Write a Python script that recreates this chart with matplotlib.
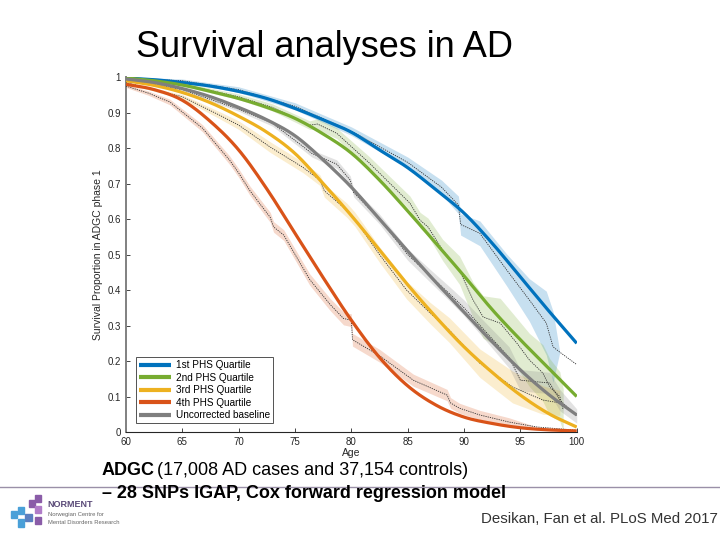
"""
Survival analyses in AD - courbes de survie par quartile de PHS (ADGC)
"""

import numpy as np
import matplotlib.pyplot as plt
from matplotlib.patches import Rectangle

plt.rcParams['font.family'] = ['Liberation Sans', 'DejaVu Sans']

# ---- Données ----
ages_modele = [60, 62.5, 65, 67.5, 70, 72.5, 75, 77.5, 80, 82.5, 85,
               87.5, 90, 92.5, 95, 97.5, 100]

q1_modele = [0.998, 0.993, 0.985, 0.975, 0.96, 0.94, 0.912, 0.88, 0.845,
             0.795, 0.745, 0.683, 0.617, 0.532, 0.437, 0.342, 0.25]
q2_modele = [0.998, 0.99, 0.978, 0.96, 0.94, 0.915, 0.884, 0.84, 0.786,
             0.71, 0.623, 0.532, 0.44, 0.345, 0.26, 0.18, 0.10]
q3_modele = [0.99, 0.977, 0.957, 0.928, 0.89, 0.845, 0.785, 0.70, 0.61,
             0.513, 0.415, 0.324, 0.24, 0.168, 0.104, 0.052, 0.014]
q4_modele = [0.98, 0.965, 0.935, 0.875, 0.795, 0.685, 0.56, 0.435, 0.315,
             0.21, 0.13, 0.076, 0.042, 0.024, 0.012, 0.006, 0.003]
base_modele = [0.995, 0.985, 0.968, 0.945, 0.915, 0.88, 0.835, 0.767, 0.69,
               0.60, 0.51, 0.422, 0.338, 0.254, 0.175, 0.106, 0.048]

# Kaplan-Meier (pointillés) + demi-largeur de l'intervalle
q1_km_ages = [60, 65, 70, 75, 80, 85, 88, 89.5, 89.7, 91.4, 93.8, 95.8, 97.3, 97.9, 98.5, 100]
q1_km = [0.998, 0.99, 0.965, 0.918, 0.848, 0.76, 0.69, 0.64, 0.585, 0.56, 0.456, 0.372, 0.307, 0.24, 0.225, 0.19]
q1_ic = [0.003, 0.005, 0.008, 0.01, 0.012, 0.015, 0.02, 0.025, 0.03, 0.035, 0.045, 0.06, 0.09, 0.1, 0.0, 0.0]

q2_km_ages = [60, 65, 70, 73, 76.3, 77, 78.7, 81.6, 85.2, 86.1, 86.8, 88.1, 89.6, 90.8, 91.7,
              93.2, 94.7, 95.8, 97, 97.6, 98.5, 98.8]
q2_km = [0.998, 0.98, 0.945, 0.915, 0.865, 0.868, 0.842, 0.758, 0.645, 0.597, 0.578, 0.513,
         0.456, 0.372, 0.324, 0.307, 0.25, 0.203, 0.166, 0.127, 0.10, 0.062]
q2_ic = [0.003, 0.005, 0.008, 0.01, 0.012, 0.015, 0.015, 0.018, 0.02, 0.022, 0.025, 0.03,
         0.04, 0.05, 0.06, 0.07, 0.07, 0.075, 0.08, 0.08, 0.07, 0.06]

q3_km_ages = [60, 65, 68.3, 70, 72.8, 75.7, 77.2, 77.6, 79.6, 80.3, 82.5, 84.9, 87, 88.7,
              91.4, 94.3, 97, 98.5]
q3_km = [0.985, 0.945, 0.893, 0.865, 0.803, 0.746, 0.71, 0.68, 0.625, 0.60, 0.50, 0.40,
         0.335, 0.287, 0.194, 0.127, 0.09, 0.082]
q3_ic = [0.003, 0.006, 0.01, 0.012, 0.015, 0.015, 0.015, 0.018, 0.02, 0.02, 0.022, 0.025,
         0.03, 0.035, 0.04, 0.045, 0.04, 0.035]

q4_km_ages = [60, 62, 63.9, 66.8, 69.2, 70, 71, 72.8, 73.1, 74, 76.3, 78.1, 79.3, 80, 80.1,
              82.5, 85.5, 88.5, 88.8, 89.6, 91.4, 94, 96.5, 100]
q4_km = [0.975, 0.955, 0.93, 0.856, 0.766, 0.73, 0.68, 0.605, 0.578, 0.555, 0.43, 0.36,
         0.32, 0.315, 0.26, 0.215, 0.146, 0.104, 0.082, 0.067, 0.048, 0.028, 0.014, 0.005]
q4_ic = [0.004, 0.006, 0.008, 0.01, 0.012, 0.012, 0.013, 0.014, 0.015, 0.015, 0.016, 0.017,
         0.018, 0.018, 0.018, 0.018, 0.017, 0.016, 0.015, 0.014, 0.013, 0.012, 0.0, 0.0]

base_km_ages = [60, 65, 70, 73, 75.7, 76.5, 78.7, 79.9, 80.2, 82.5, 85, 87, 88.7, 90, 92,
                94, 95, 97.6, 98.5, 100]
base_km = [0.995, 0.965, 0.91, 0.87, 0.805, 0.785, 0.755, 0.71, 0.675, 0.60, 0.50, 0.44,
           0.39, 0.35, 0.28, 0.21, 0.146, 0.138, 0.09, 0.045]
base_ic = [0.002, 0.004, 0.006, 0.008, 0.01, 0.01, 0.012, 0.012, 0.012, 0.014, 0.016, 0.018,
           0.02, 0.022, 0.025, 0.03, 0.03, 0.03, 0.03, 0.02]

legende = ['1st PHS Quartile', '2nd PHS Quartile', '3rd PHS Quartile',
           '4th PHS Quartile', 'Uncorrected baseline']
couleurs = ['#0072BD', '#77AC30', '#EDB120', '#D95319', '#7F7F7F']

y_ticks = [0, 0.1, 0.2, 0.3, 0.4, 0.5, 0.6, 0.7, 0.8, 0.9, 1]
y_labels = ['0', '0.1', '0.2', '0.3', '0.4', '0.5', '0.6', '0.7', '0.8', '0.9', '1']
x_ticks = [60, 65, 70, 75, 80, 85, 90, 95, 100]

modeles = [q1_modele, q2_modele, q3_modele, q4_modele, base_modele]
km_series = [(q1_km_ages, q1_km, q1_ic), (q2_km_ages, q2_km, q2_ic),
             (q3_km_ages, q3_km, q3_ic), (q4_km_ages, q4_km, q4_ic),
             (base_km_ages, base_km, base_ic)]


def trace_lisse(x, y, n=12):
    """Catmull-Rom pour dessiner une courbe lisse passant par les points lus"""
    x = np.asarray(x, float)
    y = np.asarray(y, float)
    px = np.concatenate([[2 * x[0] - x[1]], x, [2 * x[-1] - x[-2]]])
    py = np.concatenate([[2 * y[0] - y[1]], y, [2 * y[-1] - y[-2]]])
    t = np.linspace(0, 1, n, endpoint=False)
    xs, ys = [], []
    for i in range(1, len(px) - 2):
        for p, out in ((px, xs), (py, ys)):
            p0, p1, p2, p3 = p[i - 1], p[i], p[i + 1], p[i + 2]
            out.extend(0.5 * (2 * p1 + (-p0 + p2) * t + (2 * p0 - 5 * p1 + 4 * p2 - p3) * t ** 2
                              + (-p0 + 3 * p1 - 3 * p2 + p3) * t ** 3))
    xs.append(x[-1])
    ys.append(y[-1])
    return np.array(xs), np.array(ys)


fig = plt.figure(figsize=(7.2, 5.4), dpi=100)
ax = fig.add_axes([0.175, 0.2, 0.626, 0.657])

# 1. bandes + KM
for (a, s, ic), c in zip(km_series, couleurs):
    a = np.array(a)
    s = np.array(s)
    ic = np.array(ic)
    ax.fill_between(a, s - ic, s + ic, color=c, alpha=0.22, lw=0)
for (a, s, ic) in km_series:
    ax.plot(a, s, color='#333333', lw=0.6, ls=(0, (1.5, 1.2)), zorder=3)

# 2. courbes du modèle
for m, c, lab in zip(modeles, couleurs, legende):
    xs, ys = trace_lisse(ages_modele, m)
    ax.plot(xs, ys, color=c, lw=2.3, label=lab, zorder=4, solid_capstyle='butt')

ax.set_xlim(60, 100)
ax.set_ylim(0, 1)
ax.set_xticks(x_ticks)
ax.set_yticks(y_ticks)
ax.set_yticklabels(y_labels)
ax.tick_params(direction='in', length=3, labelsize=7, colors='#262626', width=0.6)
for side in ['top', 'right']:
    ax.spines[side].set_visible(False)
ax.spines['left'].set_color('#808080')
ax.spines['left'].set_linewidth(1.4)
ax.spines['bottom'].set_color('#262626')
ax.spines['bottom'].set_linewidth(0.8)
ax.set_xlabel('Age', fontsize=7.5, labelpad=1, color='#262626')
ax.set_ylabel('Survival Proportion in ADGC phase 1', fontsize=7.5, labelpad=3, color='#262626')

leg = ax.legend(loc='lower left', bbox_to_anchor=(0.022, 0.025), fontsize=7.2,
                frameon=True, fancybox=False, edgecolor='#262626', borderpad=0.3,
                handlelength=3.2, labelspacing=0.25, handletextpad=0.5, borderaxespad=0)
leg.get_frame().set_linewidth(0.7)
for ligne in leg.get_lines():
    ligne.set_linewidth(3)

# 3. textes de la diapo
fig.text(0.189, 0.912, 'Survival analyses in AD', fontsize=26, va='center', ha='left')
t1 = fig.text(0.141, 0.128, 'ADGC', fontsize=13, fontweight='bold', va='center', ha='left')
fig.canvas.draw()
bb = t1.get_window_extent()
fig.text(bb.x1 / fig.bbox.width + 0.004, 0.128, '(17,008 AD cases and 37,154 controls)',
         fontsize=13, va='center', ha='left')
fig.text(0.141, 0.087, '– 28 SNPs IGAP, Cox forward regression model', fontsize=13,
         fontweight='bold', va='center', ha='left')
fig.text(0.997, 0.038, 'Desikan, Fan et al. PLoS Med 2017', fontsize=10.8, va='center',
         ha='right', color='#333333')
fig.add_artist(plt.Line2D([0, 1], [0.099, 0.099], color='#9a90a8', lw=1))

# 4. logo NORMENT (approximatif)
carres = [(0.040, 0.062, '#8a5ca8'), (0.048, 0.070, '#8a5ca8'), (0.048, 0.050, '#b07cc8'),
          (0.025, 0.048, '#4aa0d8'), (0.015, 0.040, '#4aa0d8'), (0.035, 0.035, '#5b7fc0'),
          (0.048, 0.030, '#8a5ca8'), (0.025, 0.025, '#4aa0d8')]
for x0, y0, c in carres:
    fig.add_artist(Rectangle((x0, y0), 0.009, 0.013, color=c, transform=fig.transFigure))
fig.text(0.066, 0.066, 'NORMENT', fontsize=6.5, fontweight='bold', color='#5a4a78', va='center')
fig.text(0.066, 0.048, 'Norwegian Centre for', fontsize=4.2, color='#666666', va='center')
fig.text(0.066, 0.033, 'Mental Disorders Research', fontsize=4.2, color='#666666', va='center')

fig.savefig('out.png', dpi=100)
